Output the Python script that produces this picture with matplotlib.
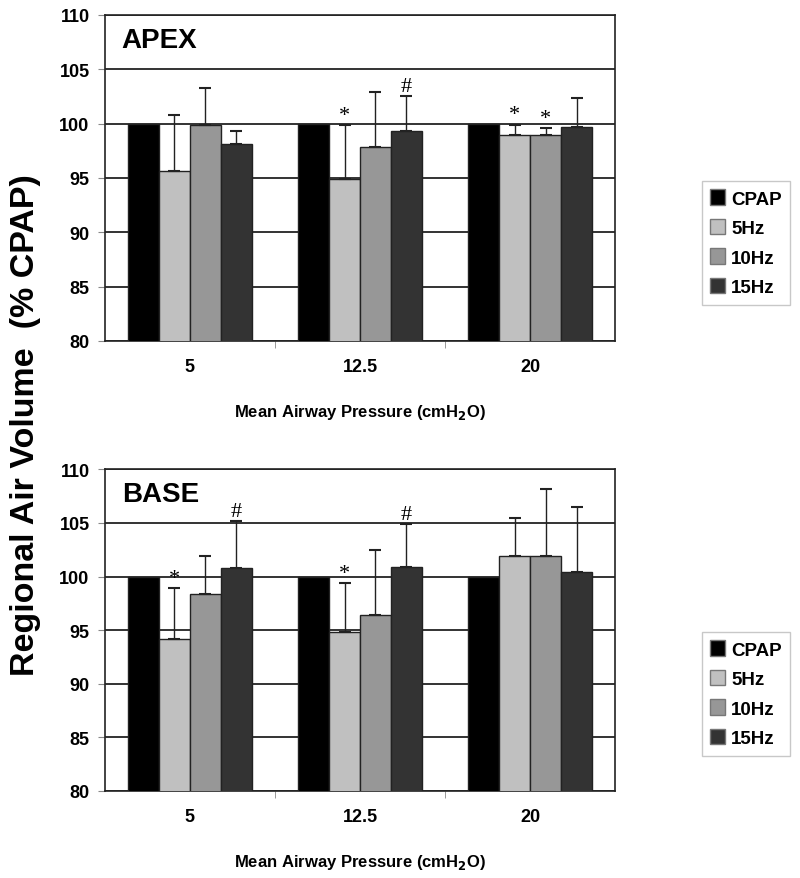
import numpy as np
import matplotlib
matplotlib.use('Agg')
import matplotlib.pyplot as plt
from matplotlib.patches import Patch

plt.rcParams['font.family'] = ['Liberation Sans', 'DejaVu Sans']

pressures = ['5', '12.5', '20']
series = ['CPAP', '5Hz', '10Hz', '15Hz']
colors = ['#000000', '#c0c0c0', '#979797', '#333333']

# APEX: mean values and upper error (+SD)
apex_mean = [[100, 100, 100],
             [95.6, 94.9, 98.9],
             [99.9, 97.8, 98.9],
             [98.1, 99.3, 99.7]]
apex_err = [[0, 0, 0],
            [5.2, 4.95, 1.0],
            [3.4, 5.1, 0.65],
            [1.25, 3.25, 2.65]]
apex_sig = [['', '', ''],
            ['', '*', '*'],
            ['', '', '*'],
            ['', '#', '']]

# BASE
base_mean = [[100, 100, 100],
             [94.2, 94.85, 101.9],
             [98.35, 96.4, 101.9],
             [100.8, 100.9, 100.4]]
base_err = [[0, 0, 0],
            [4.7, 4.55, 3.6],
            [3.55, 6.1, 6.3],
            [4.4, 4.0, 6.1]]
base_sig = [['', '', ''],
            ['*', '*', ''],
            ['', '', ''],
            ['#', '#', '']]


def draw(ax, means, errs, sigs, name):
    x = np.arange(len(pressures))
    w = 0.182
    for i, s in enumerate(series):
        pos = x + (i - 1.5) * w
        ax.bar(pos, means[i], w, bottom=0, color=colors[i], edgecolor='#222222',
               linewidth=1.0, zorder=3, label=s)
        if i > 0:
            ax.errorbar(pos, means[i], yerr=[np.zeros(3), errs[i]], fmt='none',
                        ecolor='#222222', elinewidth=1.0, capsize=4, capthick=1.5,
                        zorder=4)
            for j in range(3):
                if sigs[i][j]:
                    ax.text(pos[j], means[i][j] + errs[i][j] + 0.02, sigs[i][j],
                            ha='center', va='bottom', fontsize=16,
                            family=['Liberation Serif', 'DejaVu Serif'], zorder=5)
    ax.set_ylim(80, 110)
    ax.set_xlim(-0.5, 2.5)
    ax.set_yticks(np.arange(80, 111, 5))
    ax.yaxis.grid(True, color='#111111', linewidth=1.2, zorder=0)
    ax.set_axisbelow(True)
    ax.set_xticks(x)
    ax.set_xticklabels(pressures)
    ax.set_xticks([0.5, 1.5], minor=True)
    ax.tick_params(axis='x', which='major', length=0, pad=12)
    ax.tick_params(axis='x', which='minor', length=5, color='#888888')
    ax.tick_params(axis='y', length=5, color='#888888', pad=6)
    for lab in ax.get_xticklabels() + ax.get_yticklabels():
        lab.set_fontsize(13)
        lab.set_fontweight('bold')
    for sp in ax.spines.values():
        sp.set_color('#222222')
        sp.set_linewidth(1.2)
    ax.set_xlabel('Mean Airway Pressure (cmH$_\\mathbf{2}$O)', fontsize=12,
                  fontweight='bold', labelpad=20)
    ax.text(0.033, 0.922, name, transform=ax.transAxes, fontsize=20,
            fontweight='bold', ha='left', va='center', zorder=6)


fig = plt.figure(figsize=(8, 8.79), dpi=100)
ax1 = fig.add_axes([0.131, 0.611, 0.638, 0.371])
ax2 = fig.add_axes([0.131, 0.099, 0.638, 0.366])
draw(ax1, apex_mean, apex_err, apex_sig, 'APEX')
draw(ax2, base_mean, base_err, base_sig, 'BASE')

handles = [Patch(facecolor=c, edgecolor='#777777') for c in colors]
for ax, top in [(ax1, 0.793), (ax2, 0.280)]:
    leg = fig.legend(handles, series, loc='upper left', bbox_to_anchor=(0.8775, top),
                     frameon=True, fancybox=False, handlelength=0.8, handleheight=0.9,
                     handletextpad=0.3, labelspacing=0.6, borderpad=0.45,
                     borderaxespad=0, prop={'weight': 'bold', 'size': 13.5})
    leg.get_frame().set_edgecolor('#bbbbbb')
    leg.get_frame().set_linewidth(1.0)

fig.text(0.032, 0.516, 'Regional Air Volume  (% CPAP)', rotation=90, ha='center',
         va='center', fontsize=24.5, fontweight='bold')

fig.savefig('out.png', dpi=100)
